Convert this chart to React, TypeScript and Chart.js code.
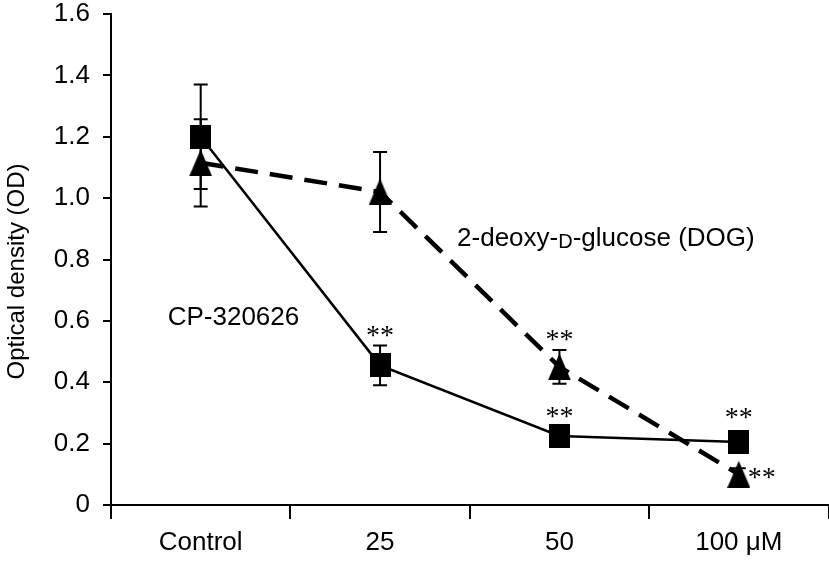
import React, { useEffect, useRef } from 'react';
import { Chart, registerables } from 'chart.js';

Chart.register(...registerables);

// ---- data ----
const categories = ['Control', '25', '50', '100 μM'];
const cpLabel = 'CP-320626';
const cpValues = [1.2, 0.455, 0.225, 0.205];
const cpErrors = [0.17, 0.065, 0.02, 0.02];
const dogLabel = '2-deoxy-D-glucose (DOG)';
const dogValues = [1.115, 1.02, 0.45, 0.1];
const dogErrors = [0.142, 0.13, 0.055, 0.02];
const yMin = 0;
const yMax = 1.6;
const yStep = 0.2;
const yTitle = 'Optical density (OD)';
// significance marks: category index and value where the "**" sits
const sigText = '**';
const sigIndex = [1, 2, 2, 3, 3];
const sigValue = [0.565, 0.552, 0.303, 0.297, 0.104];

const FONT = '"Liberation Sans", Arial, Helvetica, sans-serif';

// canvas placement inside the clipped page-sized frame
const SHIFT_TOP = 12;
const EXTRA_RIGHT = 16;

function makeMarker(kind: 'rect' | 'tri', w: number, h: number) {
  const c = document.createElement('canvas');
  c.width = w;
  c.height = h;
  const g = c.getContext('2d')!;
  g.fillStyle = '#000';
  if (kind === 'rect') {
    g.fillRect(0, 0, w, h);
  } else {
    g.beginPath();
    g.moveTo(w / 2, 0);
    g.lineTo(w, h);
    g.lineTo(0, h);
    g.closePath();
    g.fill();
  }
  return c;
}

const overlayPlugin = {
  id: 'overlay',
  afterDatasetsDraw(chart: any) {
    const ctx = chart.ctx as CanvasRenderingContext2D;
    const xs = chart.scales.x;
    const ys = chart.scales.y;
    const area = chart.chartArea;
    ctx.save();
    // error bars
    ctx.strokeStyle = '#000';
    ctx.lineWidth = 2;
    const sets: [number[], number[]][] = [
      [cpValues, cpErrors],
      [dogValues, dogErrors],
    ];
    sets.forEach(([vals, errs]) => {
      vals.forEach((v, i) => {
        const px = xs.getPixelForValue(i);
        const top = ys.getPixelForValue(v + errs[i]);
        const bot = ys.getPixelForValue(v - errs[i]);
        ctx.beginPath();
        ctx.moveTo(px, top);
        ctx.lineTo(px, bot);
        ctx.moveTo(px - 7, top);
        ctx.lineTo(px + 7, top);
        ctx.moveTo(px - 7, bot);
        ctx.lineTo(px + 7, bot);
        ctx.stroke();
      });
    });

    // significance asterisks
    ctx.fillStyle = '#000';
    ctx.font = '28px "Liberation Serif", "Times New Roman", serif';
    ctx.textAlign = 'center';
    ctx.textBaseline = 'alphabetic';
    const m = ctx.measureText(sigText);
    const shift = (m.actualBoundingBoxAscent - m.actualBoundingBoxDescent) / 2;
    sigIndex.forEach((idx, k) => {
      let px = xs.getPixelForValue(idx);
      if (k === 4) px += 23;
      const py = ys.getPixelForValue(sigValue[k]);
      ctx.fillText(sigText, px, py + shift);
    });

    // series labels
    ctx.font = `26px ${FONT}`;
    ctx.textAlign = 'left';
    ctx.textBaseline = 'middle';
    ctx.fillText(cpLabel, xs.getPixelForValue(0) - 33, ys.getPixelForValue(0.61));

    // DOG label with small-cap D
    const parts = dogLabel.split('-D-');
    let tx = xs.getPixelForValue(1) + 77;
    const ty = ys.getPixelForValue(0.866);
    const seg1 = parts[0] + '-';
    ctx.fillText(seg1, tx, ty);
    tx += ctx.measureText(seg1).width;
    ctx.font = `20px ${FONT}`;
    ctx.fillText('D', tx, ty + 3);
    tx += ctx.measureText('D').width;
    ctx.font = `26px ${FONT}`;
    ctx.fillText('-' + parts[1], tx, ty);

    // y axis title
    ctx.translate(17, (area.top + area.bottom) / 2 + 12);
    ctx.rotate(-Math.PI / 2);
    ctx.textAlign = 'center';
    ctx.textBaseline = 'middle';
    ctx.font = `24px ${FONT}`;
    ctx.fillText(yTitle, 0, 0);
    ctx.restore();
  },
};

export default function App() {
  const ref = useRef<HTMLCanvasElement | null>(null);

  useEffect(() => {
    if (!ref.current) return;
    const square = makeMarker('rect', 21, 24);
    const tri = makeMarker('tri', 23, 27);
    const chart = new Chart(ref.current, {
      type: 'line',
      data: {
        labels: categories,
        datasets: [
          {
            label: cpLabel,
            data: cpValues,
            borderColor: '#000',
            backgroundColor: '#000',
            borderWidth: 2.5,
            pointStyle: square as any,
            pointRadius: 11,
            tension: 0,
          },
          {
            label: dogLabel,
            data: dogValues,
            borderColor: '#000',
            backgroundColor: '#000',
            borderWidth: 4.5,
            borderDash: [23, 12],
            pointStyle: tri as any,
            pointRadius: 12,
            tension: 0,
          },
        ],
      },
      options: {
        animation: false,
        responsive: true,
        maintainAspectRatio: false,
        layout: { padding: { top: 0, right: 0, left: 0, bottom: 0 } },
        plugins: {
          legend: { display: false },
          tooltip: { enabled: false },
        },
        scales: {
          x: {
            type: 'category',
            offset: true,
            grid: {
              offset: true,
              drawOnChartArea: false,
              tickLength: 14,
              color: '#000',
              lineWidth: 2,
            },
            border: { color: '#000', width: 2 },
            ticks: {
              color: '#000',
              font: { family: FONT, size: 26, lineHeight: 1.2 },
              padding: 8,
              maxRotation: 0,
              autoSkip: false,
            },
            afterFit: (s: any) => {
              s.height = 58;
            },
          },
          y: {
            min: yMin,
            max: yMax,
            ticks: {
              stepSize: yStep,
              color: '#000',
              font: { family: FONT, size: 26, lineHeight: 1 },
              padding: 13,
              callback: (v: any) => (Number(v) === 0 ? '0' : Number(v).toFixed(1)),
            },
            grid: {
              drawOnChartArea: false,
              tickLength: 8,
              color: '#000',
              lineWidth: 2,
            },
            border: { color: '#000', width: 2 },
            title: { display: false, text: yTitle },
            afterFit: (s: any) => {
              s.width = 111;
            },
          },
        },
      },
      plugins: [overlayPlugin],
    });
    return () => chart.destroy();
  }, []);

  return (
    <div
      style={{
        position: 'absolute',
        left: 0,
        top: 0,
        width: 829,
        height: 563,
        overflow: 'hidden',
        background: '#fff',
      }}
    >
      <div
        style={{
          position: 'absolute',
          left: 0,
          top: -SHIFT_TOP,
          width: 829 + EXTRA_RIGHT,
          height: 563 + SHIFT_TOP,
        }}
      >
        <canvas ref={ref} />
      </div>
    </div>
  );
}
